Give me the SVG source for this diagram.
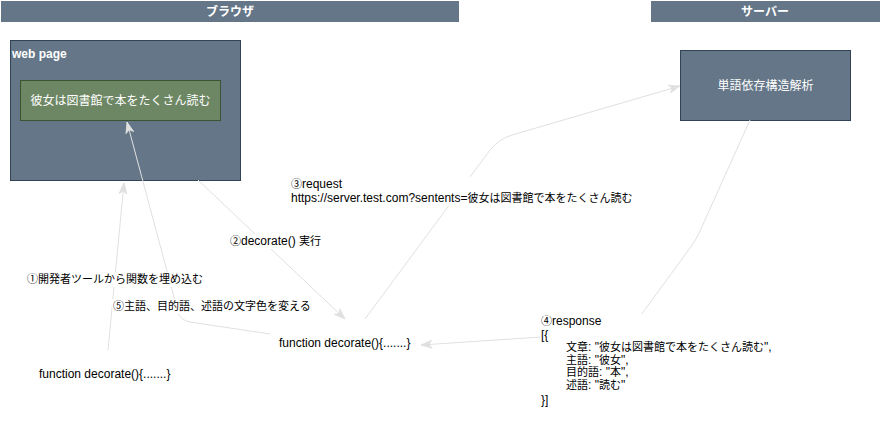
<svg xmlns="http://www.w3.org/2000/svg" width="881" height="421" viewBox="0 0 881 421">
<style>
text{font-family:"Liberation Sans","Noto Sans CJK JP",sans-serif;font-size:12px;}
.j{font-size:11px;}
.hdr{fill:#647687;stroke:#647687;}
.hdrt{fill:#ffffff;font-weight:bold;text-anchor:middle;}
.node{fill:#647687;stroke:#314354;stroke-width:1;}
.green{fill:#6d8764;stroke:#3A5431;stroke-width:1;}
.wt{fill:#ffffff;}
.lbl{fill:#000000;}
.bg{fill:#ffffff;}
.edge{fill:none;stroke:#E0E0E0;stroke-width:1;}
</style>
<defs>
<marker id="arr" markerUnits="userSpaceOnUse" markerWidth="12" markerHeight="10" viewBox="0 0 12 10" refX="11" refY="5" orient="auto">
<path d="M0,1 L11,5 L0,9 L3,5 Z" fill="#E0E0E0" stroke="#E0E0E0" stroke-width="0.8"/>
</marker>
</defs>
<rect width="881" height="421" fill="#ffffff"/>
<g id="header-browser">
<rect class="hdr" x="1.5" y="1.5" width="457" height="20"/>
<text class="hdrt" x="230" y="16">ブラウザ</text>
</g>
<g id="header-server">
<rect class="hdr" x="651.5" y="1.5" width="228" height="20"/>
<text class="hdrt" x="765" y="16">サーバー</text>
</g>
<g id="webpage">
<rect class="node" x="10.5" y="40.5" width="230" height="140"/>
<text class="wt" x="12" y="58" font-weight="bold">web page</text>
</g>
<g id="sentence">
<rect class="green" x="20.5" y="80.5" width="200" height="40"/>
<text class="wt" x="120.5" y="104.5" text-anchor="middle">彼女は図書館で本をたくさん読む</text>
</g>
<g id="server">
<rect class="node" x="680.5" y="50.5" width="170" height="70"/>
<text class="wt" x="765.5" y="89.5" text-anchor="middle">単語依存構造解析</text>
</g>
<g id="func-left">
<text class="lbl" x="39" y="378">function decorate(){.......}</text>
</g>
<g id="func-center">
<text class="lbl" x="279" y="347">function decorate(){.......}</text>
</g>
<g id="connectors">
<path class="edge" d="M108,350 L124,183" marker-end="url(#arr)"/>
<path class="edge" d="M270,334 L190,322 Q180,320 178,312 L127,122" marker-end="url(#arr)"/>
<path class="edge" d="M198,180 L345,319" marker-end="url(#arr)"/>
<path class="edge" d="M365,319 L490,150 Q499,139 512,135 L680,86" marker-end="url(#arr)"/>
<path class="edge" d="M750,120 L700,231 Q696,240 690,248 L641,315 M541,337 L421,345" marker-end="url(#arr)"/>
<rect class="bg" x="26" y="272" width="178" height="15"/>
<text class="lbl" x="27" y="283"><tspan class="j">①開発者ツールから関数を埋め込む</tspan></text>
<rect class="bg" x="112" y="299" width="200" height="15"/>
<text class="lbl" x="113" y="310"><tspan class="j">⑤主語、目的語、述語の文字色を変える</tspan></text>
<rect class="bg" x="229" y="234" width="92" height="15"/>
<text class="lbl" x="230" y="245"><tspan class="j">②</tspan>decorate() <tspan class="j">実行</tspan></text>
<rect class="bg" x="290" y="177" width="344" height="29"/>
<text class="lbl" x="291" y="188"><tspan class="j">③</tspan>request<tspan x="291" y="202">https://server.test.com?sentents=</tspan><tspan class="j">彼女は図書館で本をたくさん読む</tspan></text>
<rect class="bg" x="540" y="314" width="232" height="92"/>
<text class="lbl" x="541" y="325"><tspan class="j">④</tspan>response<tspan x="541" y="339">[{</tspan><tspan x="566" y="351" class="j">文章</tspan>: "<tspan class="j">彼女は図書館で本をたくさん読む</tspan>",<tspan x="566" y="364" class="j">主語</tspan>: "<tspan class="j">彼女</tspan>",<tspan x="566" y="376" class="j">目的語</tspan>: "<tspan class="j">本</tspan>",<tspan x="566" y="389" class="j">述語</tspan>: "<tspan class="j">読む</tspan>"<tspan x="541" y="404">}]</tspan></text>
</g>
</svg>
